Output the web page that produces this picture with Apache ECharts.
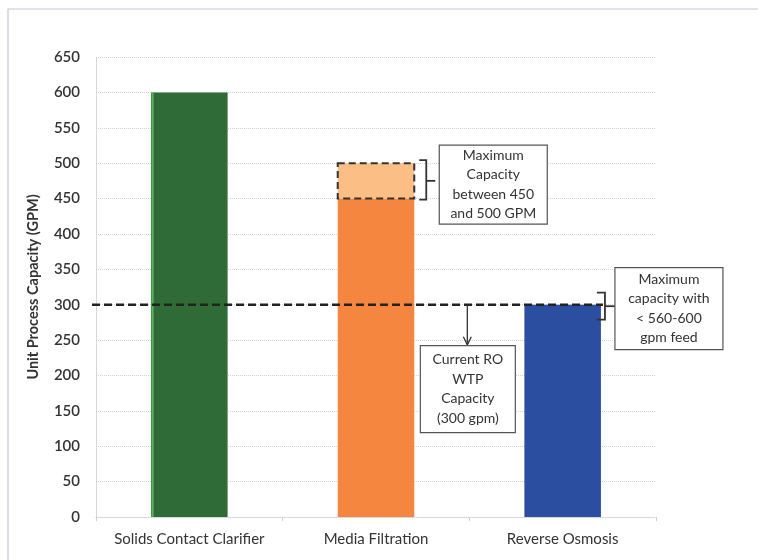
<!DOCTYPE html>
<html><head><meta charset="utf-8">
<script src="https://cdn.jsdelivr.net/npm/echarts@6/dist/echarts.min.js"></script>
<style>html,body{margin:0;padding:0;background:#fff}#c{width:758px;height:560px}</style>
</head><body><div id="c"></div>
<script>
const categories = ['Solids Contact Clarifier', 'Media Filtration', 'Reverse Osmosis'];
const capacities = [600, 450, 300];
const barColors = ['#2e6b36', '#f5863f', '#2b4ea0'];
const mediaRange = [450, 500];
const currentCapacity = 300;
const yTicks = { min: 0, max: 650, step: 50 };
const note1 = 'Maximum\nCapacity\nbetween 450\nand 500 GPM';
const note2 = 'Maximum\ncapacity with\n< 560-600\ngpm feed';
const note3 = 'Current RO\nWTP\nCapacity\n(300 gpm)';

const FONT = 'Lato, "Open Sans", sans-serif';
const chart = echarts.init(document.getElementById('c'));

function box(x, y, w, h, text) {
  return [
    { type: 'rect', shape: { x: x, y: y, width: w, height: h },
      style: { fill: '#fff', stroke: '#555', lineWidth: 1.2 } },
    { type: 'text', x: x + w / 2, y: y + h / 2,
      style: { text: text, align: 'center', verticalAlign: 'middle', fill: '#333',
               font: '14px ' + FONT, lineHeight: 19.5 } }
  ];
}

function renderItem(params, api) {
  const band = api.size([1, 0])[0];
  const barW = band * 0.41;
  const cs = params.coordSys;
  const c = (i, v) => api.coord([i, v]);
  const children = [];

  // green bar bright left stripe
  const g0 = c(0, 0), g1 = c(0, capacities[0]);
  children.push({ type: 'line', shape: { x1: g0[0] - barW / 2 + 1.5, y1: g0[1], x2: g1[0] - barW / 2 + 1.5, y2: g1[1] },
    style: { stroke: '#56b85a', lineWidth: 2 } });

  // dashed upper range box on media filtration
  const mTop = c(1, mediaRange[1]), mBot = c(1, mediaRange[0]);
  const mx = mTop[0] - barW / 2;
  children.push({ type: 'rect', shape: { x: mx, y: mTop[1], width: barW, height: mBot[1] - mTop[1] },
    style: { fill: '#fbbf86', stroke: '#333', lineWidth: 2, lineDash: [7, 4] } });

  // current capacity dashed line
  const rTop = c(2, currentCapacity);
  const rRight = rTop[0] + barW / 2;
  children.push({ type: 'line', shape: { x1: cs.x - 4, y1: rTop[1], x2: rRight + 2, y2: rTop[1] },
    style: { stroke: '#222', lineWidth: 2.5, lineDash: [8, 4] } });

  // bracket 1
  const bx1 = mx + barW + 12;
  const ym1 = (mTop[1] + mBot[1]) / 2;
  children.push({ type: 'polyline', shape: { points: [[bx1 - 7, mTop[1] - 3], [bx1, mTop[1] - 3], [bx1, mBot[1] + 1], [bx1 - 7, mBot[1] + 1]] },
    style: { stroke: '#333', lineWidth: 1.8, fill: null } });
  children.push({ type: 'line', shape: { x1: bx1, y1: ym1, x2: bx1 + 9, y2: ym1 }, style: { stroke: '#333', lineWidth: 1.8 } });
  children.push(...box(bx1 + 13, mTop[1] - 18, 108, 79, note1));

  // bracket 2
  const bx2 = rRight + 4;
  const yt2 = rTop[1] - 12, yb2 = rTop[1] + 15;
  const ym2 = (yt2 + yb2) / 2;
  children.push({ type: 'polyline', shape: { points: [[bx2 - 8, yt2], [bx2, yt2], [bx2, yb2], [bx2 - 8, yb2]] },
    style: { stroke: '#333', lineWidth: 1.8, fill: null } });
  children.push({ type: 'line', shape: { x1: bx2, y1: ym2, x2: bx2 + 10, y2: ym2 }, style: { stroke: '#333', lineWidth: 1.8 } });
  children.push(...box(bx2 + 10, rTop[1] - 37, 108, 82, note2));

  // arrow + note 3
  const midX = (c(1, 0)[0] + c(2, 0)[0]) / 2 - 2;
  const boxTop = rTop[1] + 41;
  children.push({ type: 'line', shape: { x1: midX, y1: rTop[1], x2: midX, y2: boxTop - 1 }, style: { stroke: '#333', lineWidth: 1.3 } });
  children.push({ type: 'polyline', shape: { points: [[midX - 4, boxTop - 9], [midX, boxTop - 1], [midX + 4, boxTop - 9]] },
    style: { stroke: '#333', lineWidth: 1.3, fill: null } });
  children.push(...box(midX - 47, boxTop, 95, 87, note3));

  return { type: 'group', children: children };
}

chart.setOption({
  animation: false,
  backgroundColor: '#fff',
  graphic: [{ type: 'rect', shape: { x: 8, y: 9, width: 780, height: 600 }, style: { fill: null, stroke: '#c6c6d6', lineWidth: 1.2 }, z: 100 }],
  grid: { left: 96, right: 102, top: 57, bottom: 43 },
  xAxis: {
    type: 'category', data: categories,
    axisLine: { lineStyle: { color: '#cfcfcf', type: 'dotted' } },
    axisTick: { show: true, lineStyle: { color: '#cfcfcf' }, length: 4 },
    axisLabel: { color: '#333', fontFamily: FONT, fontSize: 15, margin: 15, interval: 0 }
  },
  yAxis: {
    type: 'value', min: yTicks.min, max: yTicks.max, interval: yTicks.step,
    name: 'Unit Process Capacity (GPM)', nameLocation: 'middle', nameGap: 55,
    nameTextStyle: { color: '#333', fontFamily: FONT, fontSize: 14.5, fontWeight: 'bold' },
    axisLine: { show: true, lineStyle: { color: '#cfcfcf', type: 'dotted' } },
    axisTick: { show: false },
    splitLine: { lineStyle: { color: '#d4d4d4', type: 'dotted' } },
    axisLabel: { color: '#333', fontFamily: FONT, fontSize: 15, fontWeight: 600, margin: 16 }
  },
  series: [
    { type: 'bar', barWidth: '41%', data: capacities.map((v, i) => ({ value: v, itemStyle: { color: barColors[i] } })), z: 2 },
    { type: 'custom', renderItem: renderItem, data: [[0, 0]], z: 5, silent: true, clip: false }
  ]
});
</script></body></html>
